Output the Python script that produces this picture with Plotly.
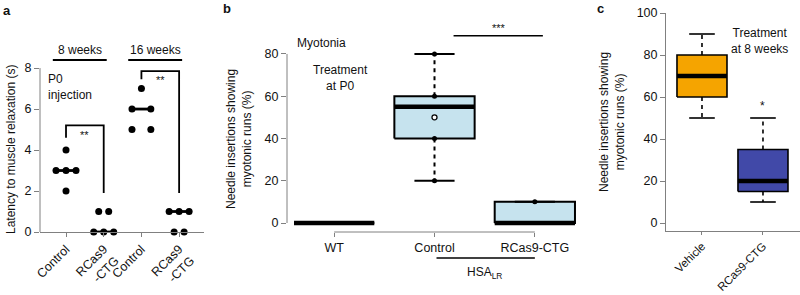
import plotly.graph_objects as go

W, H = 800, 295
FONT = "Liberation Sans, Arial, sans-serif"

# ---------------- data ----------------
# Panel a: latency to muscle relaxation (s), P0 injection
a_ticks = ["Control", "RCas9<br>-CTG", "Control", "RCas9<br>-CTG"]
a_ctrl_8w = [4, 3, 3, 3, 2]
a_rcas_8w = [1, 1, 0, 0, 0]
a_ctrl_16w = [7, 6, 6, 5, 5]
a_rcas_16w = [1, 1, 1, 0, 0]
a_groups_label = ["8 weeks", "16 weeks"]

# Panel b: myotonia, treatment at P0 (box stats)
b_cats = ["WT", "Control", "RCas9-CTG"]
b_lo = [0, 20, 0]
b_q1 = [0, 40, 0]
b_med = [0, 55, 0]
b_q3 = [0, 60, 10]
b_hi = [0, 80, 10]
b_pts_ctrl = [80, 60, 40, 20]
b_mean_ctrl = [50]
b_pts_rcas = [10]

# Panel c: treatment at 8 weeks (box stats)
c_cats = ["Vehicle", "RCas9-CTG"]
c_lo = [50, 10]
c_q1 = [60, 15]
c_med = [70, 20]
c_q3 = [80, 35]
c_hi = [90, 50]

# ---------------- helpers ----------------
def px(x):
    return x / W

def py(y):
    return 1 - y / H

fig = go.Figure()
shapes = []
ann = []

AXC = "#808080"
TXT = "#111111"
FS = 12

def add_text(x, y, text, size=FS, xref="paper", yref="paper", xanchor="center",
             yanchor="middle", angle=0, bold=False, align="center"):
    ann.append(dict(x=x, y=y, xref=xref, yref=yref, text=("<b>%s</b>" % text) if bold else text,
                    showarrow=False, xanchor=xanchor, yanchor=yanchor, textangle=angle,
                    font=dict(family=FONT, size=size, color=TXT), align=align))

def line_trace(xs, ys, xa, ya, width=1.6, dash=None, color="black"):
    fig.add_trace(go.Scatter(x=xs, y=ys, xaxis=xa, yaxis=ya, mode="lines",
                             line=dict(color=color, width=width, dash=dash),
                             hoverinfo="skip", showlegend=False))

def draw_box(xa, ya, pos, lo, q1, med, q3, hi, fill, hw=0.4, cw=0.2, lw=1.6):
    fig.add_trace(go.Scatter(x=[pos - hw, pos + hw, pos + hw, pos - hw, pos - hw],
                             y=[q1, q1, q3, q3, q1], xaxis=xa, yaxis=ya, mode="lines",
                             fill="toself", fillcolor=fill,
                             line=dict(color="black", width=lw),
                             hoverinfo="skip", showlegend=False))
    line_trace([pos, pos, None, pos, pos], [q3, hi, None, q1, lo], xa, ya, width=lw, dash="4px,4px")
    line_trace([pos - cw, pos + cw, None, pos - cw, pos + cw], [hi, hi, None, lo, lo], xa, ya, width=lw)
    line_trace([pos - hw, pos + hw], [med, med], xa, ya, width=4.5)

# ---------------- panel a ----------------
a_data = [a_ctrl_8w, a_rcas_8w, a_ctrl_16w, a_rcas_16w]
a_step = [0.265, 0.265, 0.5, 0.265]
for gi, vals in enumerate(a_data):
    xs, ys = [], []
    for v in sorted(set(vals), reverse=True):
        n = vals.count(v)
        for k in range(n):
            xs.append(gi + (k - (n - 1) / 2) * a_step[gi])
            ys.append(v)
    sv = sorted(vals)
    med = sv[len(sv) // 2]
    line_trace([gi - 0.265, gi + 0.265], [med, med], "x", "y", width=2.8)
    fig.add_trace(go.Scatter(x=xs, y=ys, xaxis="x", yaxis="y", mode="markers",
                             marker=dict(color="black", size=7), cliponaxis=False,
                             hoverinfo="skip", showlegend=False))

# significance brackets (8 weeks, 16 weeks)
line_trace([0, 0, 1, 1], [max(a_ctrl_8w) + 0.6, 5.2, 5.2, max(a_rcas_8w) + 0.9], "x", "y", width=1.8)
line_trace([2, 2, 3, 3], [max(a_ctrl_16w) + 0.45, 7.85, 7.85, max(a_rcas_16w) + 0.9], "x", "y", width=1.8)
add_text(0.5, 4.72, "**", xref="x", yref="y", size=11)
add_text(2.5, 7.42, "**", xref="x", yref="y", size=11)
# group labels
for gi, lab in enumerate(a_groups_label):
    line_trace([2 * gi - 0.35, 2 * gi + 1.08], [8.39, 8.39], "x", "y", width=2)
    add_text(2 * gi + 0.37, 8.9, lab, xref="x", yref="y")
add_text(px(46), py(87), "P0<br>injection", xanchor="left", align="left")
add_text(px(11), py(150), "Latency to muscle relaxation (s)", angle=-90)
add_text(px(1), py(10), "a", xanchor="left", size=13, bold=True)
shapes.append(dict(type="line", xref="x domain", yref="y", x0=0, x1=0, y0=0, y1=8,
                   line=dict(color=AXC, width=1)))

# ---------------- panel b ----------------
for i in range(len(b_cats)):
    draw_box("x2", "y2", i, b_lo[i], b_q1[i], b_med[i], b_q3[i], b_hi[i], "#C6E3EE", lw=2)
fig.add_trace(go.Scatter(x=[1] * len(b_pts_ctrl) + [2] * len(b_pts_rcas),
                         y=b_pts_ctrl + b_pts_rcas, xaxis="x2", yaxis="y2", mode="markers",
                         marker=dict(color="black", size=5), cliponaxis=False,
                         hoverinfo="skip", showlegend=False))
fig.add_trace(go.Scatter(x=[1] * len(b_mean_ctrl), y=b_mean_ctrl, xaxis="x2", yaxis="y2",
                         mode="markers",
                         marker=dict(color="white", size=5, line=dict(color="black", width=1.3)),
                         hoverinfo="skip", showlegend=False))
line_trace([1.19, 2.08], [88.6, 88.6], "x2", "y2", width=1.5)
add_text(1.64, 92.3, "***", xref="x2", yref="y2", size=11)
add_text(px(295), py(43), "Myotonia", xanchor="left")
add_text(px(340), py(78), "Treatment<br>at P0")
add_text(px(239), py(139), "Needle insertions showing<br>myotonic runs (%)", angle=-90)
add_text(px(227), py(8), "b", xanchor="center", size=13, bold=True)
shapes.append(dict(type="line", xref="x2 domain", yref="y2", x0=0, x1=0, y0=0, y1=80,
                   line=dict(color=AXC, width=1)))
shapes.append(dict(type="line", xref="x2", yref="y2 domain", x0=0, x1=2, y0=0, y1=0,
                   line=dict(color=AXC, width=1)))
shapes.append(dict(type="line", xref="x2", yref="paper", x0=1.02, x1=2.0, y0=py(258), y1=py(258),
                   line=dict(color="black", width=1.6)))
add_text(1.5, py(273), "HSA<sub>LR</sub>", xref="x2")

# ---------------- panel c ----------------
c_fill = ["#F5A400", "#4149A8"]
for i in range(len(c_cats)):
    draw_box("x3", "y3", i, c_lo[i], c_q1[i], c_med[i], c_q3[i], c_hi[i], c_fill[i], hw=0.41, cw=0.21, lw=1.6)
add_text(1, c_hi[1] + 5.5, "*", xref="x3", yref="y3", size=12)
add_text(px(759), py(41), "Treatment<br>at 8 weeks")
add_text(px(612), py(122), "Needle insertions showing<br>myotonic runs (%)", angle=-90)
add_text(px(600), py(8), "c", xanchor="center", size=13, bold=True)

# ---------------- layout ----------------
tickfont = dict(family=FONT, size=12.5, color=TXT)
common_x = dict(showgrid=False, zeroline=False, ticks="outside", ticklen=4, tickcolor=AXC,
                tickfont=tickfont, fixedrange=True, automargin=False)
common_y = dict(showgrid=False, zeroline=False, ticks="outside", ticklen=5, tickcolor=AXC,
                tickfont=tickfont, fixedrange=True, automargin=False)

fig.update_layout(
    template="none",
    width=W, height=H, margin=dict(l=0, r=0, t=0, b=0, pad=0), autosize=False,
    paper_bgcolor="white", plot_bgcolor="rgba(0,0,0,0)", showlegend=False,
    xaxis=dict(common_x, domain=[px(40), px(204)], range=[-0.69, 3.66], anchor="y",
               tickvals=list(range(len(a_ticks))), ticktext=a_ticks, tickangle=-45,
               showline=True, linecolor=AXC, linewidth=1),
    yaxis=dict(common_y, domain=[py(232), py(40)], range=[0, 9.37], anchor="x",
               tickvals=[0, 2, 4, 6, 8], showline=False),
    xaxis2=dict(common_x, domain=[px(287), px(582)], range=[-0.47, 2.47], anchor="y2",
                tickvals=list(range(len(b_cats))), ticktext=b_cats, tickangle=0, showline=False),
    yaxis2=dict(common_y, domain=[py(232), py(25)], range=[-4.26, 93.7], anchor="x2",
                tickvals=[0, 20, 40, 60, 80], showline=False),
    xaxis3=dict(common_x, domain=[px(666), 1.0], range=[-0.59, 1.607], anchor="y3",
                tickvals=list(range(len(c_cats))), ticktext=c_cats, tickangle=-45,
                tickfont=dict(family=FONT, size=11.5, color=TXT), ticklen=3,
                showline=True, linecolor=AXC, linewidth=1),
    yaxis3=dict(common_y, domain=[py(231), py(13)], range=[-3.81, 100], anchor="x3",
                tickvals=[0, 20, 40, 60, 80, 100], showline=True, linecolor=AXC, linewidth=1),
    shapes=shapes, annotations=ann,
)

fig.write_html("out.html", config={"displayModeBar": False},
               post_script="document.body.style.margin='0';document.body.style.overflow='hidden';")
